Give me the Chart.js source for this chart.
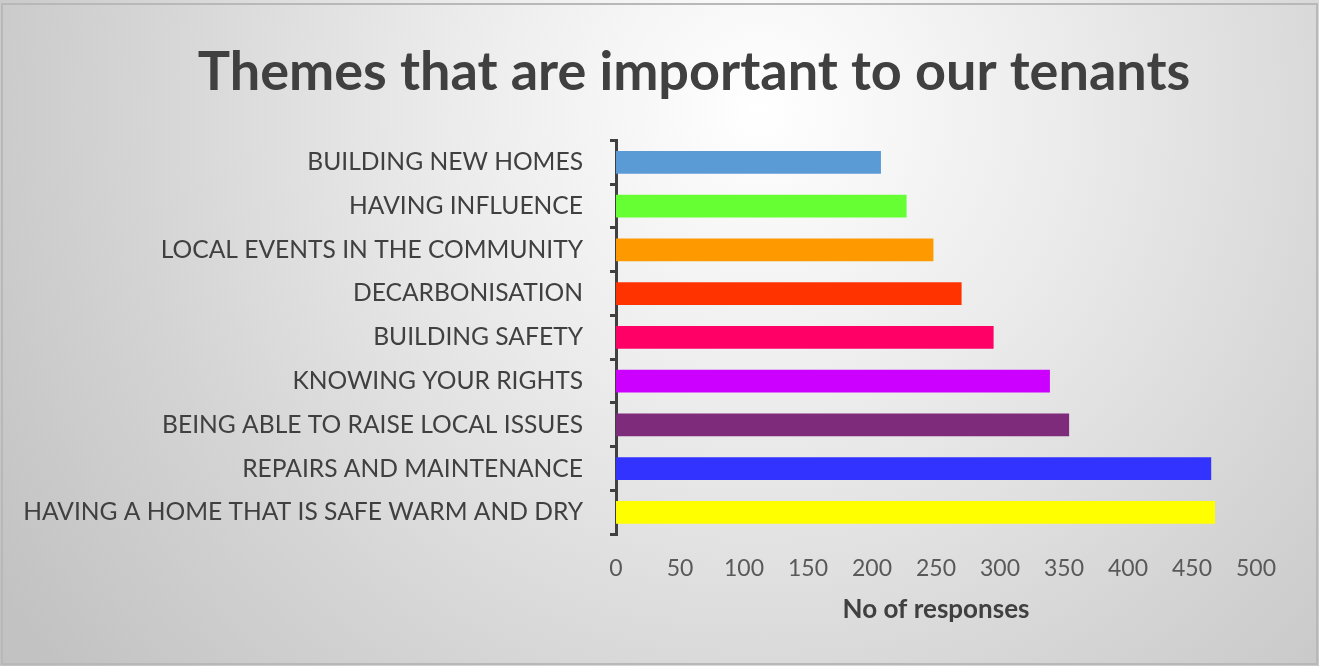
<!DOCTYPE html>
<html>
<head>
<meta charset="utf-8">
<script src="https://cdn.jsdelivr.net/npm/chart.js@4.4.1/dist/chart.umd.min.js"></script>
<style>
  html, body { margin: 0; padding: 0; background: #ffffff; }
  #wrap { width: 1319px; height: 666px; }
</style>
</head>
<body>
<div id="wrap"><canvas id="themes" width="1319" height="666"></canvas></div>
<script>
// chart data
var categories = [
  "BUILDING NEW HOMES",
  "HAVING INFLUENCE",
  "LOCAL EVENTS IN THE COMMUNITY",
  "DECARBONISATION",
  "BUILDING SAFETY",
  "KNOWING YOUR RIGHTS",
  "BEING ABLE TO RAISE LOCAL ISSUES",
  "REPAIRS AND MAINTENANCE",
  "HAVING A HOME THAT IS SAFE WARM AND DRY"
];
var responses = [207, 227, 248, 270, 295, 339, 354, 465, 468];
var barColours = ["#5B9BD5", "#66FF33", "#FF9900", "#FF3300", "#FF0066", "#CC00FF", "#7F2B7B", "#3333FF", "#FFFF00"];
var xTicks = [0, 50, 100, 150, 200, 250, 300, 350, 400, 450, 500];

var background = {
  id: "background",
  beforeDraw: function (chart) {
    var ctx = chart.ctx;
    var w = chart.width, h = chart.height;
    ctx.save();
    var g = ctx.createRadialGradient(760, 110, 0, 760, 110, 900);
    g.addColorStop(0, "#ffffff");
    g.addColorStop(0.35, "#ebebeb");
    g.addColorStop(0.7, "#d4d4d4");
    g.addColorStop(1, "#c2c2c2");
    ctx.fillStyle = g;
    ctx.fillRect(0, 0, w, h);
    ctx.strokeStyle = "#b8b8b8";
    ctx.lineWidth = 2;
    ctx.strokeRect(2, 4, w - 4, h - 6);
    ctx.restore();
  }
};

// the title in the reference sits right of the canvas centre
var shiftTitle = {
  id: "shiftTitle",
  afterLayout: function (chart) {
    if (chart.titleBlock) {
      chart.titleBlock.left = 132;
      chart.titleBlock.right = 1256;
    }
  }
};

var ctx = document.getElementById("themes").getContext("2d");
var chart = new Chart(ctx, {
  type: "bar",
  data: {
    labels: categories,
    datasets: [{
      label: "No of responses",
      data: responses,
      backgroundColor: barColours,
      borderWidth: 0,
      categoryPercentage: 1,
      barPercentage: 0.52
    }]
  },
  plugins: [background, shiftTitle],
  options: {
    indexAxis: "y",
    responsive: false,
    animation: false,
    layout: {
      padding: { left: 10, right: 63, top: 0, bottom: 40 }
    },
    plugins: {
      legend: { display: false },
      tooltip: { enabled: false },
      title: {
        display: true,
        text: "Themes that are important to our tenants",
        color: "#404040",
        font: { family: "Lato", size: 54, weight: "bold", lineHeight: 1.1 },
        padding: { top: 43, bottom: 38 }
      }
    },
    scales: {
      x: {
        min: 0,
        max: 500,
        afterBuildTicks: function (scale) {
          scale.ticks = xTicks.map(function (v) { return { value: v }; });
        },
        grid: { display: false, drawTicks: false },
        border: { display: false },
        ticks: {
          color: "#595959",
          padding: 21,
          maxRotation: 0,
          font: { family: "Lato", size: 23 }
        },
        title: {
          display: true,
          text: "No of responses",
          color: "#404040",
          font: { family: "Lato", size: 26, weight: "bold", lineHeight: 1.2 },
          padding: { top: -10, bottom: 1 }
        }
      },
      y: {
        afterFit: function (scale) {
          scale.width = 616 - 10;
        },
        grid: {
          display: true,
          offset: true,
          drawOnChartArea: false,
          drawTicks: true,
          tickLength: 6,
          color: "#404040",
          lineWidth: 3
        },
        border: { display: true, color: "#404040", width: 3 },
        ticks: {
          color: "#404040",
          padding: 27,
          autoSkip: false,
          font: { family: "Lato", size: 24.6 }
        }
      }
    }
  }
});
</script>
</body>
</html>
